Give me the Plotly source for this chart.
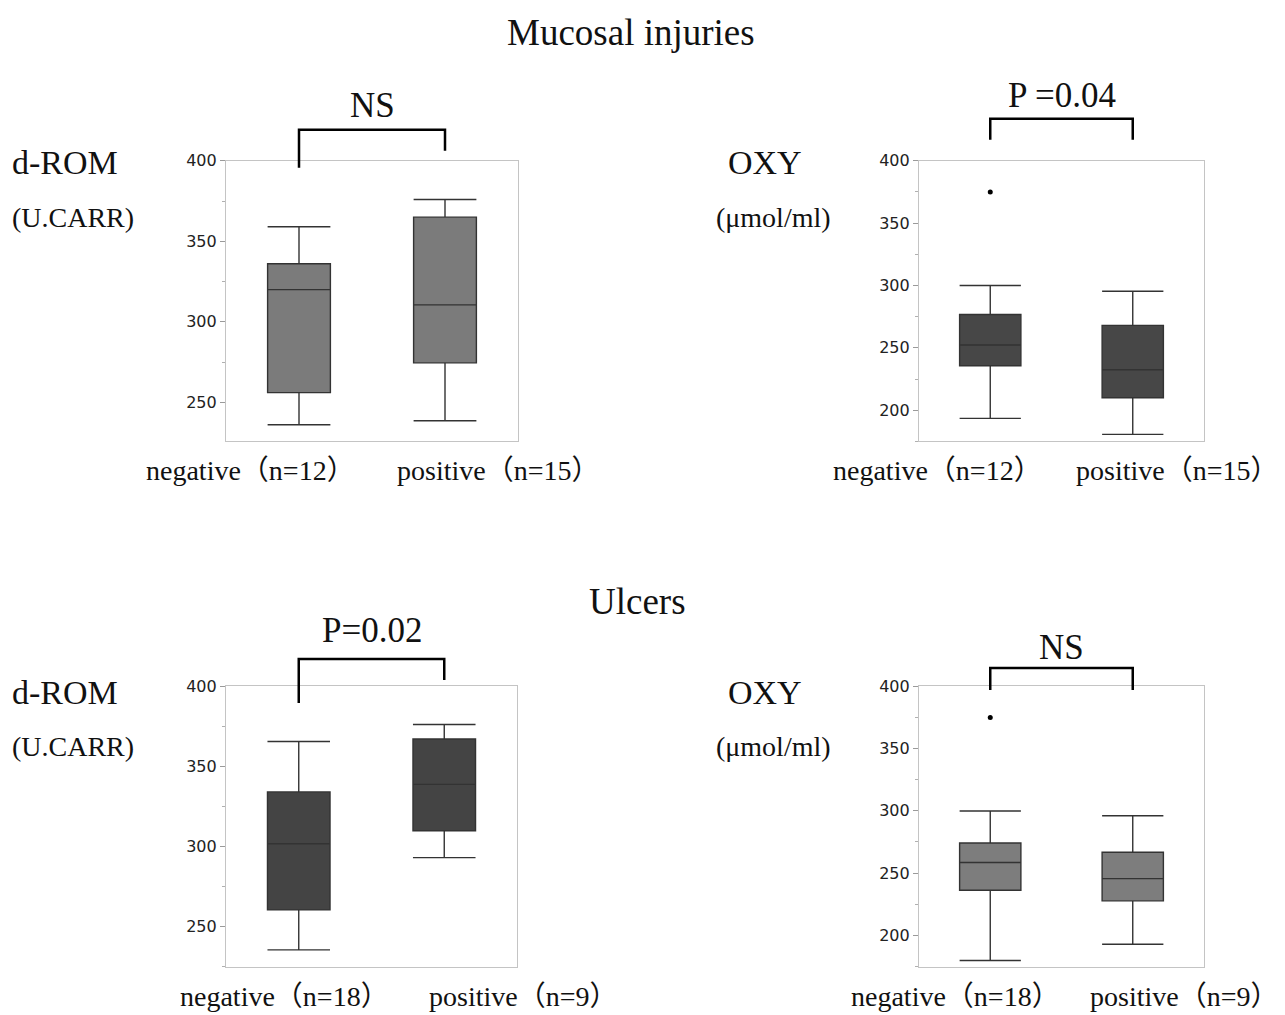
import plotly.graph_objects as go

# ---------------- data ----------------
categories = ["negative", "positive"]

# Mucosal injuries - d-ROM (U.CARR)
drom_muc_lower = [236, 238.5]
drom_muc_q1 = [256, 274.5]
drom_muc_median = [320, 310.5]
drom_muc_q3 = [336, 365]
drom_muc_upper = [359, 376]
drom_muc_n = [12, 15]

# Mucosal injuries - OXY (umol/ml)
oxy_muc_lower = [193.5, 180.6]
oxy_muc_q1 = [235.7, 210]
oxy_muc_median = [252.3, 232.5]
oxy_muc_q3 = [276.7, 268]
oxy_muc_upper = [300, 295.4]
oxy_muc_outlier_x = ["negative"]
oxy_muc_outlier_y = [375]
oxy_muc_n = [12, 15]

# Ulcers - d-ROM
drom_ulc_lower = [235.5, 293]
drom_ulc_q1 = [260.4, 309.8]
drom_ulc_median = [301.7, 338.7]
drom_ulc_q3 = [334, 367]
drom_ulc_upper = [365.4, 376]
drom_ulc_n = [18, 9]

# Ulcers - OXY
oxy_ulc_lower = [180, 193]
oxy_ulc_q1 = [236.3, 227.8]
oxy_ulc_median = [258.5, 245.6]
oxy_ulc_q3 = [274.2, 266.7]
oxy_ulc_upper = [299.8, 296]
oxy_ulc_outlier_x = ["negative"]
oxy_ulc_outlier_y = [374.7]
oxy_ulc_n = [18, 9]

significance = ["NS", "P =0.04", "P=0.02", "NS"]
yticks_drom = [250, 300, 350, 400]
yticks_oxy = [200, 250, 300, 350, 400]

# ---------------- styling ----------------
W, H = 1285, 1015
SERIF = "Liberation Serif, Times New Roman, Noto Sans CJK JP, serif"
SANS = "DejaVu Sans, Verdana, sans-serif"
LIGHT = "#7b7b7b"
DARK = "#474747"


def py(ypix):
    """paper y fraction for a target pixel row (small empirical correction)."""
    yf = (ypix - 8.0) / 0.9925
    return 1 - yf / H


def px(xpix):
    return xpix / W


panels = [
    dict(ax="", lower=drom_muc_lower, q1=drom_muc_q1, med=drom_muc_median, q3=drom_muc_q3,
         upper=drom_muc_upper, fill=LIGHT, ox=None, oy=None, yr=[226, 400], ticks=yticks_drom,
         dx=[px(226), px(518)], top=160, bot=440.5, n=drom_muc_n,
         labx=[250, 498], laby=470, sig=significance[0], sigy=105,
         br=dict(yl=167, yr=150, yt=129)),
    dict(ax="2", lower=oxy_muc_lower, q1=oxy_muc_q1, med=oxy_muc_median, q3=oxy_muc_q3,
         upper=oxy_muc_upper, fill=DARK, ox=oxy_muc_outlier_x, oy=oxy_muc_outlier_y,
         yr=[175, 400], ticks=yticks_oxy,
         dx=[px(919), px(1204)], top=160, bot=441, n=oxy_muc_n,
         labx=[937, 1177], laby=470, sig=significance[1], sigy=95,
         br=dict(yl=139, yr=139, yt=118)),
    dict(ax="3", lower=drom_ulc_lower, q1=drom_ulc_q1, med=drom_ulc_median, q3=drom_ulc_q3,
         upper=drom_ulc_upper, fill="#444444", ox=None, oy=None, yr=[225, 400], ticks=yticks_drom,
         dx=[px(226), px(517)], top=686, bot=967, n=drom_ulc_n,
         labx=[284, 523], laby=997, sig=significance[2], sigy=630,
         br=dict(yl=703, yr=680, yt=659)),
    dict(ax="4", lower=oxy_ulc_lower, q1=oxy_ulc_q1, med=oxy_ulc_median, q3=oxy_ulc_q3,
         upper=oxy_ulc_upper, fill="#7d7d7d", ox=oxy_ulc_outlier_x, oy=oxy_ulc_outlier_y,
         yr=[175, 400], ticks=yticks_oxy,
         dx=[px(919), px(1204)], top=686, bot=967, n=oxy_ulc_n,
         labx=[955, 1184], laby=997, sig=significance[3], sigy=647,
         br=dict(yl=690, yr=690, yt=668)),
]

fig = go.Figure()
annotations = []
shapes = []
layout_axes = {}

for p in panels:
    xa = "x" + p["ax"]
    ya = "y" + p["ax"]
    fig.add_trace(go.Box(
        x=categories, q1=p["q1"], median=p["med"], q3=p["q3"],
        lowerfence=p["lower"], upperfence=p["upper"],
        xaxis=xa, yaxis=ya, width=0.43, whiskerwidth=1,
        fillcolor=p["fill"], line=dict(color="#333333", width=1.4),
        boxpoints=False, showlegend=False, hoverinfo="skip",
    ))
    if p["ox"] is not None:
        fig.add_trace(go.Scatter(
            x=p["ox"], y=p["oy"], mode="markers", xaxis=xa, yaxis=ya,
            marker=dict(color="black", size=5), showlegend=False, hoverinfo="skip",
        ))
    layout_axes["xaxis" + p["ax"]] = dict(
        domain=p["dx"], type="category", categoryorder="array", categoryarray=categories,
        range=[-0.5, 1.5], showticklabels=False, ticks="", showgrid=False, zeroline=False,
        showline=True, mirror=True, linecolor="#c4c4c4", linewidth=1.2, anchor=ya,
    )
    layout_axes["yaxis" + p["ax"]] = dict(
        domain=[py(p["bot"]), py(p["top"])], range=p["yr"], tickvals=p["ticks"],
        ticks="outside", ticklen=5,
        tickcolor="#9a9a9a", showgrid=False, zeroline=False,
        showline=True, mirror=True, linecolor="#c4c4c4", linewidth=1.2, anchor=xa,
        tickfont=dict(family=SANS, size=16, color="#222222"),
        minor=dict(dtick=25, tick0=0, ticks="outside", ticklen=3, tickcolor="#b0b0b0"),
    )
    xd = xa + " domain"
    for i, c in enumerate(categories):
        annotations.append(dict(
            text=f"{c}（n={p['n'][i]}）", xref="paper", yref="paper",
            x=px(p["labx"][i]), y=py(p["laby"]),
            xanchor="center", yanchor="middle", showarrow=False,
            font=dict(family=SERIF, size=28, color="#111111"),
        ))
    # significance bracket between the two category centres
    x1 = (0 + 0.5) / len(categories)
    x2 = (1 + 0.5) / len(categories)
    b = p["br"]
    shapes.append(dict(
        type="path", xref=xd, yref="paper",
        path=(f"M {x1},{py(b['yl'])} L {x1},{py(b['yt'])} "
              f"L {x2},{py(b['yt'])} L {x2},{py(b['yr'])}"),
        line=dict(color="black", width=2.5),
    ))
    annotations.append(dict(
        text=p["sig"], xref=xd, yref="paper", x=0.5, y=py(p["sigy"]), xanchor="center",
        yanchor="middle", showarrow=False, font=dict(family=SERIF, size=35, color="#111111"),
    ))

text_items = [
    ("Mucosal injuries", 631, 32, "center", 37),
    ("Ulcers", 637, 601, "center", 37),
    ("d-ROM", 10, 162, "left", 34),
    ("(U.CARR)", 10, 217, "left", 28),
    ("OXY", 765, 162, "center", 34),
    ("(μmol/ml)", 773, 217, "center", 28),
    ("d-ROM", 10, 692, "left", 34),
    ("(U.CARR)", 10, 747, "left", 28),
    ("OXY", 765, 692, "center", 34),
    ("(μmol/ml)", 773, 747, "center", 28),
]
for t, x, y, xa_, s in text_items:
    annotations.append(dict(
        text=t, xref="paper", yref="paper", x=px(x), y=py(y), xanchor=xa_, yanchor="middle",
        showarrow=False, font=dict(family=SERIF, size=s, color="#111111"),
    ))

fig.update_layout(
    width=W, height=H, autosize=False,
    margin=dict(l=0, r=0, t=0, b=0),
    paper_bgcolor="white", plot_bgcolor="white",
    showlegend=False, annotations=annotations, shapes=shapes,
    **layout_axes,
)

fig.write_html(
    "out.html",
    config={"displayModeBar": False},
    post_script="document.body.style.margin='0';document.body.style.overflow='hidden';",
)
